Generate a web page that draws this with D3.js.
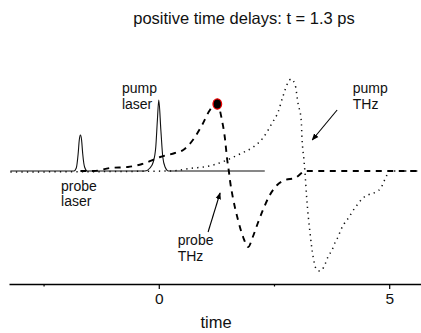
<!DOCTYPE html>
<html><head><meta charset="utf-8">
<script src="https://cdn.jsdelivr.net/npm/d3@7"></script>
<style>body{margin:0;background:#fff}svg{display:block;font-family:"Liberation Sans",Arial,sans-serif}</style>
</head><body><svg id="c" width="421" height="333"></svg>
<script>
// time values (ps) and amplitudes (arbitrary units)
const laserT = [-3.22,-1.84,-1.79,-1.75,-1.725,-1.70,-1.675,-1.65,-1.61,-1.55,-0.30,-0.19,-0.12,-0.065,-0.03,0.0,0.045,0.087,0.137,0.21,0.40,2.30];
const laserV = [0,0,0.03,0.17,0.31,0.36,0.31,0.17,0.04,0,0,0.03,0.09,0.24,0.51,0.71,0.41,0.14,0.04,0,0,0];

const probeThzT = [-1.70,-1.42,-1.05,-0.67,-0.36,0.03,0.35,0.53,0.74,0.94,1.11,1.27,1.37,1.44,1.48,1.52,1.55,1.61,1.72,1.83,1.94,2.04,2.15,2.26,2.41,2.57,2.74,2.96,3.13,3.17,5.69];
const probeThzV = [0,0,0.03,0.04,0.07,0.14,0.18,0.21,0.31,0.46,0.61,0.67,0.51,0.31,0.13,0,-0.11,-0.27,-0.49,-0.66,-0.76,-0.66,-0.52,-0.39,-0.24,-0.14,-0.09,-0.07,-0.01,0,0];

const pumpThzT = [-3.22,0.25,0.75,0.97,1.18,1.48,1.76,2.05,2.26,2.46,2.59,2.69,2.80,2.87,2.96,3.02,3.09,3.11,3.15,3.17,3.21,3.28,3.35,3.43,3.50,3.54,3.61,3.67,3.76,3.82,3.89,3.95,4.02,4.13,4.21,4.32,4.43,4.54,4.71,4.82,4.89,4.95,4.99,5.69];
const pumpThzV = [-0.01,0,0.03,0.04,0.06,0.11,0.17,0.24,0.33,0.48,0.59,0.74,0.88,0.92,0.86,0.68,0.51,0.31,0.11,0,-0.27,-0.61,-0.86,-0.99,-1.00,-0.99,-0.93,-0.86,-0.79,-0.72,-0.66,-0.59,-0.53,-0.46,-0.40,-0.33,-0.27,-0.24,-0.21,-0.17,-0.10,-0.04,0,0];

const markerT = 1.27, markerV = 0.67;
const tickValues = [-2.5, 0, 2.5, 5];
const tickLabels = ["", "0", "", "5"];
const titleText = "positive time delays: t = 1.3 ps";
const xLabel = "time";

// labels: [lines, t, v of first baseline]
const labels = [
  {lines:["pump","laser"], t:-0.80, v:0.78},
  {lines:["probe","laser"], t:-2.12, v:-0.197},
  {lines:["pump","THz"], t:4.21, v:0.78},
  {lines:["probe","THz"], t:0.41, v:-0.74}
];
const arrows = [
  {t1:3.87, v1:0.61, t2:3.33, v2:0.31},
  {t1:1.07, v1:-0.61, t2:1.33, v2:-0.22}
];

const svg = d3.select("#c");
const x = d3.scaleLinear().domain([-3.25, 5.69]).range([9, 421]);
const y = d3.scaleLinear().domain([-1, 1]).range([271, 71]);

const toPts = (T, V) => T.map((t, i) => [t, V[i]]);
const line = d3.line().x(d => x(d[0])).y(d => y(d[1])).curve(d3.curveMonotoneX);

svg.append("defs").append("marker").attr("id","ah").attr("viewBox","0 0 10 10")
  .attr("refX",9).attr("refY",5).attr("markerWidth",7).attr("markerHeight",7)
  .attr("markerUnits","userSpaceOnUse").attr("orient","auto")
  .append("path").attr("d","M0,1 L10,5 L0,9 Z").attr("fill","#000");

svg.append("text").attr("x",244).attr("y",24).attr("text-anchor","middle")
  .attr("font-size",16.5).attr("fill","#111").text(titleText);

svg.append("path").attr("d", line(toPts(laserT, laserV)))
  .attr("fill","none").attr("stroke","#111").attr("stroke-width",1.1);

svg.append("path").attr("d", line(toPts(pumpThzT, pumpThzV)))
  .attr("fill","none").attr("stroke","#111").attr("stroke-width",1.5)
  .attr("stroke-dasharray","1.3,4.2");

svg.append("path").attr("d", line(toPts(probeThzT, probeThzV)))
  .attr("fill","none").attr("stroke","#000").attr("stroke-width",1.9)
  .attr("stroke-dasharray","6,5.5");

svg.append("ellipse").attr("cx",x(markerT)).attr("cy",y(markerV)).attr("rx",4.3).attr("ry",5.2)
  .attr("fill","#000").attr("stroke","#e00").attr("stroke-width",1.3);

arrows.forEach(a => {
  svg.append("line").attr("x1",x(a.t1)).attr("y1",y(a.v1)).attr("x2",x(a.t2)).attr("y2",y(a.v2))
    .attr("stroke","#000").attr("stroke-width",1.1).attr("marker-end","url(#ah)");
});

labels.forEach(l => {
  const t = svg.append("text").attr("x",x(l.t)).attr("y",y(l.v)).attr("font-size",14).attr("fill","#111");
  l.lines.forEach((s,i) => t.append("tspan").attr("x",x(l.t)).attr("dy", i ? 15.5 : 0).text(s));
});

const ax = svg.append("g").attr("transform","translate(0,284)")
  .call(d3.axisBottom(x).tickValues(tickValues).tickSizeOuter(0)
    .tickFormat((d,i) => tickLabels[i]));
ax.select(".domain").attr("stroke","#000").attr("stroke-width",1.6);
ax.selectAll(".tick line").attr("stroke","#000").attr("stroke-width",1.2)
  .attr("y2",(d,i) => tickLabels[i] ? 5 : 2.5);
ax.selectAll(".tick text").attr("font-size",15.5).attr("fill","#111")
  .attr("font-family","Liberation Sans, Arial, sans-serif").attr("dy","0.71em").attr("y",9);

svg.append("text").attr("x",216).attr("y",328).attr("text-anchor","middle")
  .attr("font-size",16.5).attr("fill","#111").text(xLabel);
</script></body></html>
